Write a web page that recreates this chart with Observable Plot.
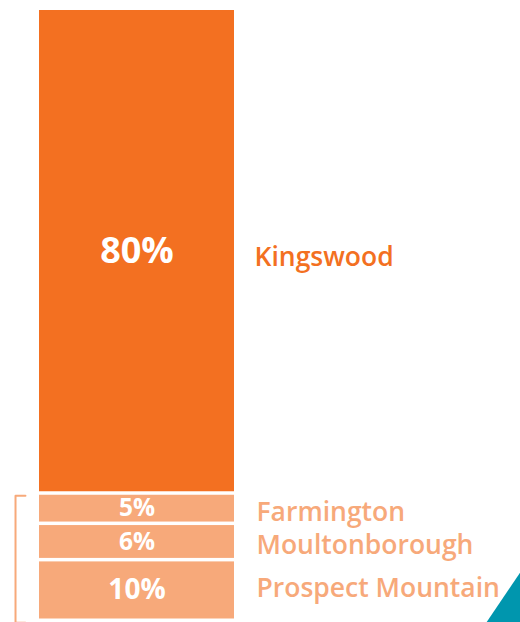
<!DOCTYPE html>
<html>
<head>
<meta charset="utf-8">
<script src="https://cdn.jsdelivr.net/npm/d3@7"></script>
<script src="https://cdn.jsdelivr.net/npm/@observablehq/plot@0.6"></script>
<style>
  html, body { margin: 0; padding: 0; background: #fff; }
  #chart svg { display: block; }
</style>
</head>
<body>
<div id="chart"></div>
<script>
// Data (bottom to top of the stacked bar)
const schools = ["Prospect Mountain", "Moultonborough", "Farmington", "Kingswood"];
const shares = [10, 6, 5, 80];
const shareLabels = ["10%", "6%", "5%", "80%"];

// derived stack positions (cumulative sums of the shares)
let acc = 0;
const data = schools.map((s, i) => {
  const y1 = acc; acc += shares[i];
  return {school: s, share: shares[i], label: shareLabels[i], y1, y2: acc, mid: (y1 + acc) / 2};
});

const DARK = "#F37021";
const LIGHT = "#F7A97A";
const TEAL = "#0096AE";
const color = d => d.school === "Kingswood" ? DARK : LIGHT;

// small-school group (bracketed)
const small = data.filter(d => d.school !== "Kingswood");
const smallTotal = d3.sum(small, d => d.share);

const W = 520, H = 622;
const xDomain = [-0.2, 2.4667]; // bar occupies x in [0, 1]
const yMax = 101;
const inset = 3.5;

const bracketX = -0.123, bracketTick = -0.072;
const bracket = [
  {x: bracketTick, y: smallTotal - 0.1},
  {x: bracketX, y: smallTotal - 0.1},
  {x: bracketX, y: -0.05},
  {x: bracketTick, y: -0.05}
];
const tri = [
  {x: 2.296, y1: 0, y2: 0},
  {x: 2.47, y1: 0, y2: 8.3}
];

const font = "'Open Sans', 'Segoe UI', sans-serif";
const kw = data.filter(d => d.school === "Kingswood");
const mid2 = data.filter(d => d.school === "Farmington" || d.school === "Moultonborough");
const pm = data.filter(d => d.school === "Prospect Mountain");

const chart = Plot.plot({
  width: W,
  height: H,
  marginTop: 10,
  marginBottom: 0,
  marginLeft: 0,
  marginRight: 0,
  style: {fontFamily: font, background: "#fff", overflow: "hidden"},
  x: {domain: xDomain, axis: null},
  y: {domain: [0, yMax], axis: null},
  marks: [
    Plot.areaY(tri, {x: "x", y1: "y1", y2: "y2", fill: TEAL}),
    Plot.rectY(data, {x1: () => 0, x2: () => 1, y1: "y1", y2: "y2", fill: color, insetBottom: inset}),
    Plot.line(bracket, {x: "x", y: "y", stroke: LIGHT, strokeWidth: 2, curve: "linear"}),
    // percent labels inside bar
    Plot.text(data, {
      x: () => 0.5, y: "mid", text: "label", fill: "white", fontWeight: "bold",
      fontSize: d => d.share >= 80 ? 36 : d.share >= 10 ? 28 : 24.5,
      dy: -inset / 2
    }),
    // school names
    Plot.text(kw, {
      x: () => 1, y: "mid", text: "school", fill: color, fontWeight: 600,
      fontSize: 26.5, textAnchor: "start", dx: 20, dy: 5
    }),
    Plot.text(mid2, {
      x: () => 1, y: "mid", text: "school", fill: color, fontWeight: 600,
      fontSize: 26.5, textAnchor: "start", dx: 22, dy: 2
    }),
    Plot.text(pm, {
      x: () => 1, y: "mid", text: "school", fill: color, fontWeight: 600,
      fontSize: 26.5, textAnchor: "start", dx: 22, dy: -4
    })
  ]
});
document.getElementById("chart").append(chart);
</script>
</body>
</html>
